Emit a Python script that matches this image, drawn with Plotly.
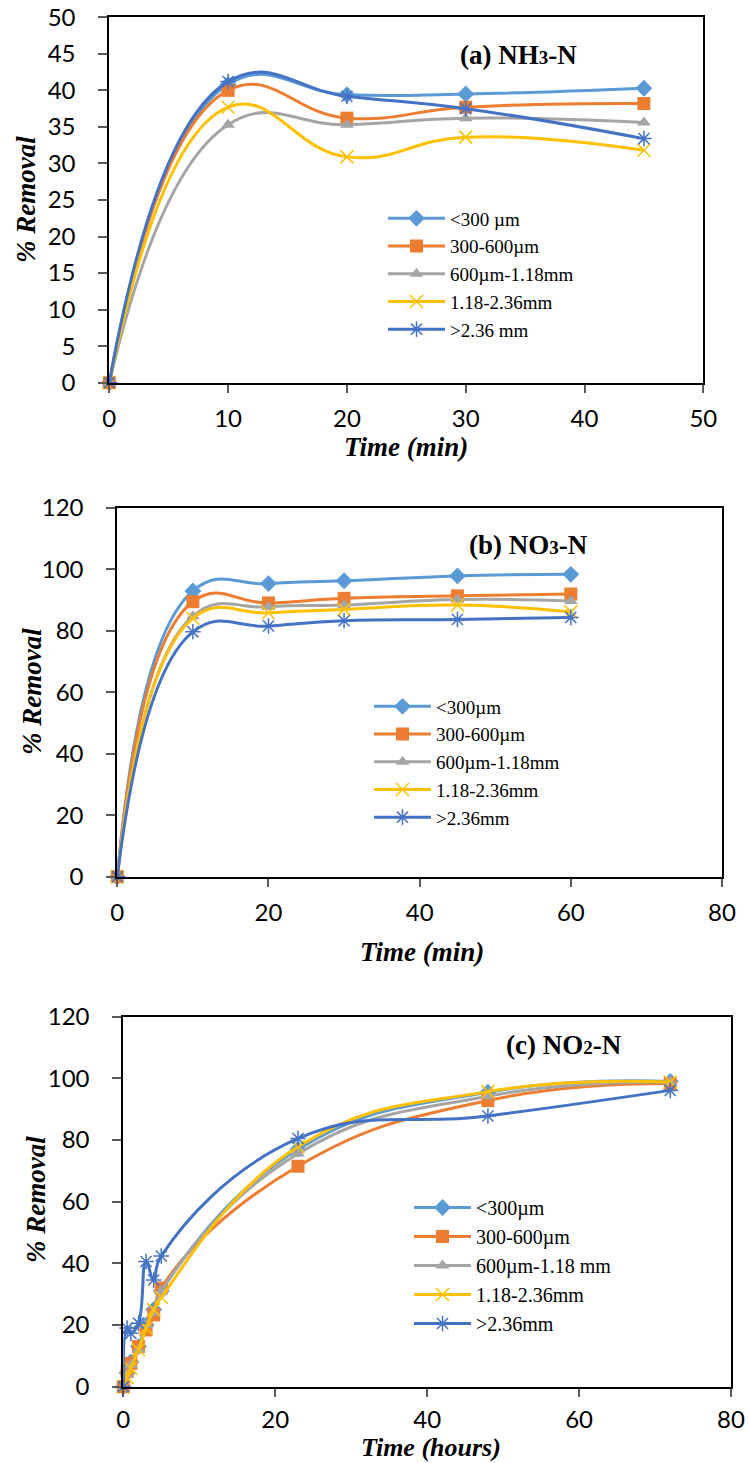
import plotly.graph_objects as go

W, H = 748, 1463

series_names_a = ["<300 µm", "300-600µm", "600µm-1.18mm", "1.18-2.36mm", ">2.36 mm"]
series_names_b = ["<300µm", "300-600µm", "600µm-1.18mm", "1.18-2.36mm", ">2.36mm"]
series_names_c = ["<300µm", "300-600µm", "600µm-1.18 mm", "1.18-2.36mm", ">2.36mm"]

# Panel (a) NH3-N
a_time = [0, 10, 20, 30, 45]
a_lt300 = [0, 40.8, 39.4, 39.5, 40.3]
a_300_600 = [0, 40.0, 36.2, 37.7, 38.2]
a_600_118 = [0, 35.3, 35.3, 36.2, 35.6]
a_118_236 = [0, 37.7, 30.9, 33.6, 31.8]
a_gt236 = [0, 41.2, 39.2, 37.5, 33.4]

# Panel (b) NO3-N
b_time = [0, 10, 20, 30, 45, 60]
b_lt300 = [0, 93.0, 95.4, 96.3, 97.9, 98.4]
b_300_600 = [0, 89.5, 89.1, 90.6, 91.4, 92.0]
b_600_118 = [0, 84.8, 87.8, 88.4, 90.2, 89.7]
b_118_236 = [0, 84.1, 85.9, 87.0, 88.4, 86.2]
b_gt236 = [0, 79.7, 81.6, 83.3, 83.7, 84.4]

# Panel (c) NO2-N
c_time = [0, 0.5, 1, 2, 3, 4, 5, 23, 48, 72]
c_lt300 = [0, 4.5, 8.0, 13.0, 20.0, 25.0, 31.0, 77.0, 95.5, 99.0]
c_300_600 = [0, 4.9, 7.6, 13.0, 18.4, 23.3, 32.0, 71.5, 92.8, 98.3]
c_600_118 = [0, 4.0, 7.0, 12.0, 20.0, 24.0, 31.0, 75.6, 94.2, 98.8]
c_118_236 = [0, 3.0, 6.0, 12.0, 19.0, 25.0, 29.0, 77.8, 95.7, 98.8]
c_gt236 = [0, 19.0, 17.3, 20.6, 40.6, 34.6, 42.4, 80.5, 87.8, 96.1]

colors = ["#5B9BD5", "#ED7D31", "#A5A5A5", "#FFC000", "#4472C4"]
symbols = ["diamond", "square", "triangle-up", "x-thin-open", "asterisk-open"]
msizes = [13, 13, 12, 13, 13]

def px_x(p):
    return p / W

def px_y(p):
    return 1 - p / H

fig = go.Figure()

panels = [
    (a_time, [a_lt300, a_300_600, a_600_118, a_118_236, a_gt236], series_names_a, "x", "y", "legend"),
    (b_time, [b_lt300, b_300_600, b_600_118, b_118_236, b_gt236], series_names_b, "x2", "y2", "legend2"),
    (c_time, [c_lt300, c_300_600, c_600_118, c_118_236, c_gt236], series_names_c, "x3", "y3", "legend3"),
]

for t, ys, names, xa, ya, lg in panels:
    for i, (yv, nm) in enumerate(zip(ys, names)):
        open_sym = symbols[i] in ("x-thin-open", "asterisk-open")
        fig.add_trace(go.Scatter(
            x=t, y=yv, name=nm, xaxis=xa, yaxis=ya, legend=lg,
            mode="lines+markers", cliponaxis=False,
            line=dict(color=colors[i], width=3, shape="spline", smoothing=1.3),
            marker=dict(symbol=symbols[i], size=msizes[i], color=colors[i],
                        line=dict(color=colors[i], width=1.5 if open_sym else 0)),
        ))

tickfont = dict(family="Lato", size=24, color="#000000")

def xaxis(dom, anchor, rng, dtick, standoff=5):
    return dict(domain=dom, anchor=anchor, range=rng, dtick=dtick, tick0=0,
                showgrid=False, zeroline=False, showline=True, linecolor="#000000",
                linewidth=2, mirror=True, ticks="outside", ticklen=8, tickwidth=1.5,
                tickcolor="#595959", tickfont=tickfont, ticklabelstandoff=standoff,
                automargin=False)

def yaxis(dom, anchor, rng, dtick):
    return dict(domain=dom, anchor=anchor, range=rng, dtick=dtick, tick0=0,
                showgrid=False, zeroline=False, showline=True, linecolor="#000000",
                linewidth=2, mirror=True, ticks="outside", ticklen=9, tickwidth=1.5,
                tickcolor="#595959", tickfont=tickfont, ticklabelstandoff=18,
                automargin=False)

fig.update_layout(
    width=W, height=H,
    margin=dict(l=0, r=0, t=0, b=0, autoexpand=False),
    paper_bgcolor="white", plot_bgcolor="white",
    xaxis=xaxis([px_x(109.3), px_x(703.3)], "y", [0, 50], 10),
    yaxis=yaxis([px_y(382.7), px_y(17.3)], "x", [0, 50], 5),
    xaxis2=xaxis([px_x(117.3), px_x(722)], "y2", [0, 80], 20),
    yaxis2=yaxis([px_y(876.7), px_y(508)], "x2", [0, 120], 20),
    xaxis3=xaxis([px_x(123.3), px_x(731)], "y3", [0, 80], 20, standoff=2),
    yaxis3=yaxis([px_y(1386.7), px_y(1016.7)], "x3", [0, 120], 20),
    showlegend=True,
)

for key, lx, ly, fs in [("legend", 383, 199.5, 19), ("legend2", 369, 687.5, 19),
                        ("legend3", 409, 1188, 20)]:
    fig.update_layout({key: dict(x=px_x(lx), y=px_y(ly), xanchor="left", yanchor="top",
                                 font=dict(family="Liberation Serif", size=fs, color="#000000"),
                                 bgcolor="rgba(0,0,0,0)", borderwidth=0,
                                 itemwidth=57, tracegroupgap=0)})

title_font = dict(family="Liberation Serif", size=27, color="#000000")

annos = [
    ("<b>(a) NH<span style='font-size:19px'>3</span>-N</b>", 518, 55),
    ("<b>(b) NO<span style='font-size:19px'>3</span>-N</b>", 528, 545),
    ("<b>(c) NO<span style='font-size:19px'>2</span>-N</b>", 564, 1045),
]
for txt, x, y in annos:
    fig.add_annotation(text=txt, x=px_x(x), y=px_y(y), xref="paper", yref="paper",
                       showarrow=False, xanchor="center", yanchor="middle", font=title_font)

axis_titles = [
    ("<b><i>Time (min)</i></b>", 406, 447, 0, 27),
    ("<b><i>Time (min)</i></b>", 422, 952, 0, 27),
    ("<b><i>Time (hours)</i></b>", 431, 1447, 0, 26),
    ("<b><i>% Removal</i></b>", 26, 200, -90, 27),
    ("<b><i>% Removal</i></b>", 32, 692, -90, 27),
    ("<b><i>% Removal</i></b>", 36, 1200, -90, 27),
]
for txt, x, y, ang, fs in axis_titles:
    fig.add_annotation(text=txt, x=px_x(x), y=px_y(y), xref="paper", yref="paper",
                       showarrow=False, xanchor="center", yanchor="middle",
                       textangle=ang,
                       font=dict(family="Liberation Serif", size=fs, color="#000000"))

fig.write_html("out.html")
